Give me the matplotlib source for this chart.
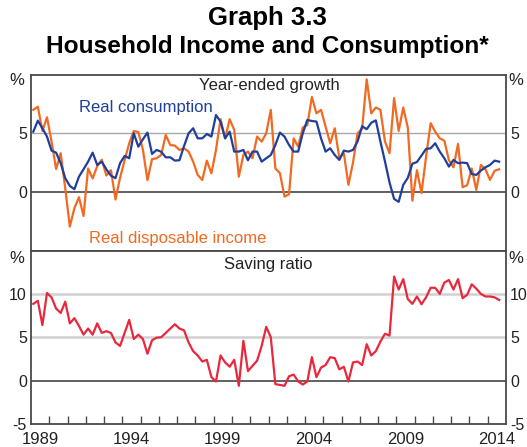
import numpy as np
import pandas as pd
from matplotlib import pyplot as plt

plt.rcParams['font.family'] = ['Liberation Sans', 'DejaVu Sans']
plt.rcParams['axes.unicode_minus'] = False

# quarterly, 1989Q1 .. 2014Q3
quarters = pd.period_range('1989Q1', periods=103, freq='Q')

consumption = [5.14, 6.08, 5.43, 4.72, 3.52, 3.35, 2.45, 1.17, 0.51, 0.23,
               1.30, 1.93, 2.58, 3.35, 2.30, 2.58, 1.93, 1.39, 1.17, 2.45,
               3.07, 2.87, 5.00, 3.86, 4.49, 5.06, 3.24, 3.58, 3.43, 2.95,
               2.95, 2.67, 2.70, 3.90, 5.00, 5.43, 4.57, 4.57, 4.94, 4.72,
               6.56, 6.00, 4.57, 5.14, 3.44, 3.44, 3.58, 2.70, 3.44, 3.44,
               2.58, 2.87, 3.15, 4.00, 5.06, 4.72, 4.00, 3.44, 3.44, 5.00,
               6.14, 6.05, 6.00, 4.57, 3.44, 3.72, 3.15, 2.73, 3.52, 3.44,
               3.58, 4.30, 5.60, 5.35, 5.90, 6.10, 4.30, 2.60, 0.80, -0.60,
               -0.85, 0.60, 1.20, 2.40, 2.55, 3.10, 3.67, 3.72, 4.15, 3.44,
               2.87, 2.16, 2.73, 2.45, 2.50, 2.45, 1.53, 1.45, 1.82, 2.10,
               2.30, 2.67, 2.58]

income = [7.00, 7.27, 5.20, 6.37, 4.29, 1.95, 3.30, 0.30, -2.96, -1.39,
          -0.45, -2.05, 2.00, 1.15, 2.20, 2.75, 1.40, 1.85, -0.65, 1.20,
          2.70, 4.15, 5.20, 5.10, 3.60, 1.00, 2.80, 2.87, 3.15, 4.86,
          4.00, 3.95, 3.58, 3.72, 3.44, 2.58, 1.45, 1.02, 2.67, 1.59,
          3.58, 6.20, 4.57, 6.20, 5.29, 1.30, 3.15, 3.44, 2.87, 4.72,
          4.29, 5.00, 7.00, 2.00, 1.60, -0.40, -0.20, 4.57, 3.86, 5.50,
          5.70, 8.10, 6.70, 7.00, 5.57, 4.15, 5.43, 2.90, 3.30, 0.60,
          2.50, 5.00, 5.40, 9.60, 6.70, 7.20, 7.00, 4.30, 3.30, 8.00,
          5.20, 7.20, 5.50, -0.75, 1.85, -0.10, 3.00, 5.86, 5.14, 4.57,
          4.37, 2.70, 2.10, 4.10, 0.40, 0.57, 2.00, 0.17, 2.30, 1.93,
          1.02, 1.80, 1.93]

saving = [8.85, 9.20, 6.40, 10.10, 9.60, 8.30, 7.80, 9.10, 6.60, 7.20,
          6.30, 5.30, 6.00, 5.30, 6.60, 5.50, 5.70, 5.50, 4.40, 4.00,
          5.50, 7.00, 4.80, 5.30, 4.80, 3.10, 4.65, 4.95, 5.00, 5.50,
          6.00, 6.50, 6.00, 5.80, 4.40, 3.40, 2.90, 2.20, 2.40, 0.40,
          -0.10, 2.90, 2.10, 1.60, 2.40, -0.60, 4.60, 1.10, 1.70, 2.30,
          4.00, 6.20, 5.00, -0.40, -0.50, -0.60, 0.50, 0.70, -0.10, -0.45,
          -0.10, 2.70, 0.40, 1.50, 1.80, 2.70, 2.60, 1.30, 1.60, -0.10,
          2.10, 2.20, 1.80, 4.20, 2.90, 3.40, 4.50, 5.40, 5.20, 12.00,
          10.50, 11.70, 9.40, 8.85, 9.70, 8.80, 9.60, 10.70, 10.70, 10.00,
          11.30, 11.60, 10.50, 11.70, 9.50, 9.90, 11.10, 10.60, 10.00, 9.70,
          9.70, 9.60, 9.30]

year_labels = ['1989', '1994', '1999', '2004', '2009', '2014']

# decimal year at the middle of each quarter
t = quarters.year + (quarters.quarter - 0.5) / 4

BLUE = '#1f3f9b'
ORANGE = '#f26a22'
RED = '#e8283c'
FRAME = '#4a4a4a'
TXT = '#222222'

fig = plt.figure(figsize=(5.27, 4.47), dpi=100)
ax1 = fig.add_axes([31/527, 1-250.5/447, 475/527, 175.8/447])
ax2 = fig.add_axes([31/527, 1-424/447, 475/527, 173.5/447])

fig.text(0.508, 1-18/447, 'Graph 3.3', ha='center', va='center',
         fontsize=18.5, fontweight='bold')
fig.text(0.508, 1-47/447, 'Household Income and Consumption*', ha='center',
         va='center', fontsize=17.6, fontweight='bold')

for ax in (ax1, ax2):
    ax.set_xlim(1989, 2015)
    for s in ax.spines.values():
        s.set_color(FRAME)
        s.set_linewidth(1.3)
    ax.tick_params(axis='y', length=0, labelleft=True, labelright=True,
                   labelsize=11.5, pad=3, colors=TXT)
    ax.axhline(0, color='#555555', lw=1.3, zorder=1)

# top panel
ax1.set_ylim(-5, 10)
ax1.set_yticks([0, 5])
ax1.axhline(5, color='#a8a8a8', lw=1.0, zorder=1)
ax1.tick_params(axis='x', bottom=False, labelbottom=False)
ax1.plot(t, consumption, color=BLUE, lw=1.6, zorder=3)
ax1.plot(t, income, color=ORANGE, lw=1.6, zorder=2)
ax1.text(0.501, 0.936, 'Year-ended growth', transform=ax1.transAxes,
         ha='center', va='center', fontsize=12, color=TXT)
ax1.text(0.242, 0.816, 'Real consumption', transform=ax1.transAxes,
         ha='center', va='center', fontsize=12, color=BLUE)
ax1.text(0.309, 0.071, 'Real disposable income', transform=ax1.transAxes,
         ha='center', va='center', fontsize=12, color=ORANGE)
ax1.text(-0.029, 0.965, '%', transform=ax1.transAxes, ha='center',
         va='center', fontsize=12, color=TXT)
ax1.text(1.021, 0.965, '%', transform=ax1.transAxes, ha='center',
         va='center', fontsize=12, color=TXT)

# bottom panel
ax2.set_ylim(-5, 15)
ax2.set_yticks([-5, 0, 5, 10])
for g in (5, 10):
    ax2.axhline(g, color='#d0d0d0', lw=1.8, zorder=1)
ax2.plot(t, saving, color=RED, lw=1.6, zorder=3)
ax2.set_xticks(np.arange(1990, 2015))
ax2.set_xticklabels([])
ax2.tick_params(axis='x', which='major', direction='in', length=6,
                width=1, color=FRAME)
ax2.set_xticks(np.arange(1989.5, 2015, 5), minor=True)
ax2.set_xticklabels(year_labels, minor=True)
ax2.tick_params(axis='x', which='minor', length=0, labelsize=12, pad=6,
                colors=TXT)
ax2.text(0.5, 0.92, 'Saving ratio', transform=ax2.transAxes,
         ha='center', va='center', fontsize=12, color=TXT)
ax2.text(-0.029, 0.955, '%', transform=ax2.transAxes, ha='center',
         va='center', fontsize=12, color=TXT)
ax2.text(1.021, 0.955, '%', transform=ax2.transAxes, ha='center',
         va='center', fontsize=12, color=TXT)

fig.savefig('out.png', dpi=100)
